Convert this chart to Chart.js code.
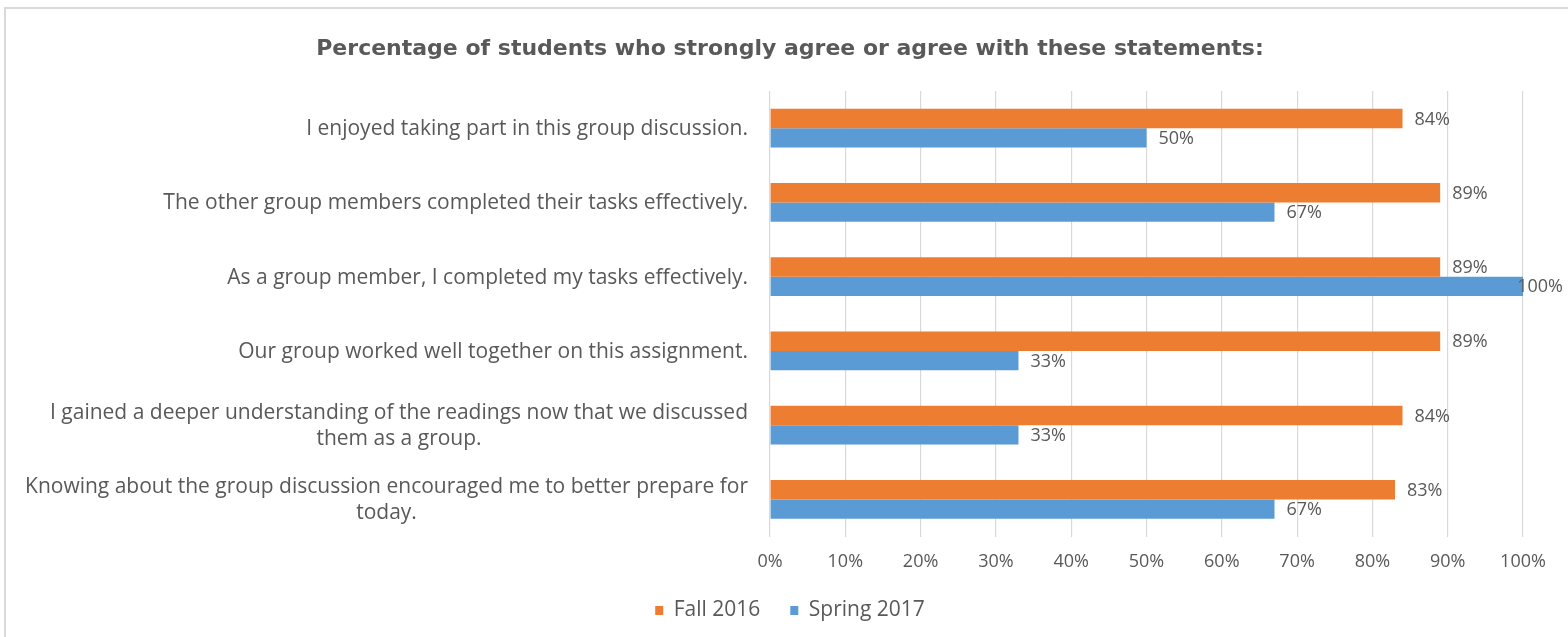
<!DOCTYPE html>
<html>
<head>
<meta charset="utf-8">
<script src="https://cdn.jsdelivr.net/npm/chart.js@4"></script>
<style>
  html, body { margin: 0; padding: 0; background: #ffffff; overflow: hidden; }
  #frame { position: absolute; left: 4px; top: 7px; width: 1600px; height: 700px; border: 2px solid #d9d9d9; }
  #wrap { position: absolute; left: 0; top: 0; width: 1568px; height: 637px; }
</style>
</head>
<body>
<div id="frame"></div>
<div id="wrap"><canvas id="survey" width="1568" height="637"></canvas></div>
<script>
// Survey statements (wrapped lines as they appear beside the bars)
const statements = [
  ['I enjoyed taking part in this group discussion.'],
  ['The other group members completed their tasks effectively.'],
  ['As a group member, I completed my tasks effectively.'],
  ['Our group worked well together on this assignment.'],
  ['I gained a deeper understanding of the readings now that we discussed', 'them as a group.'],
  ['Knowing about the group discussion encouraged me to better prepare for', 'today.']
];
// Share of students agreeing, in percent
const fall2016 = [84, 89, 89, 89, 84, 83];
const spring2017 = [50, 67, 100, 33, 33, 67];
const seriesNames = ['Fall 2016', 'Spring 2017'];
const percentTicks = ['0%', '10%', '20%', '30%', '40%', '50%', '60%', '70%', '80%', '90%', '100%'];
const chartTitle = 'Percentage of students who strongly agree or agree with these statements:';

const TEXT = '#595959';
const GRID = '#d9d9d9';
const ORANGE = '#ed7d31';
const BLUE = '#5b9bd5';
const FONT = '"Open Sans", "Liberation Sans", sans-serif';
const TITLE_FONT = '"DejaVu Sans", "Open Sans", sans-serif';

Chart.defaults.font.family = FONT;
Chart.defaults.color = TEXT;

// Category labels: first line right-aligned against the axis, continuation lines centred under it
const statementLabels = {
  id: 'statementLabels',
  afterDraw(chart) {
    const y = chart.scales.y;
    const ctx = chart.ctx;
    const right = chart.chartArea.left - 22;
    const lineHeight = 26;
    ctx.save();
    ctx.font = '21px ' + FONT;
    ctx.fillStyle = TEXT;
    ctx.textBaseline = 'middle';
    statements.forEach((lines, i) => {
      const cy = y.getPixelForValue(i) + 1;
      const firstWidth = ctx.measureText(lines[0]).width;
      lines.forEach((line, j) => {
        const ly = cy + (j - (lines.length - 1) / 2) * lineHeight;
        if (j === 0) {
          ctx.textAlign = 'right';
          ctx.fillText(line, right, ly);
        } else {
          ctx.textAlign = 'center';
          ctx.fillText(line, right - firstWidth / 2, ly);
        }
      });
    });
    ctx.restore();
  }
};

// Value labels just past the end of each bar, kept inside the canvas
const valueLabels = {
  id: 'valueLabels',
  afterDatasetsDraw(chart) {
    const ctx = chart.ctx;
    ctx.save();
    ctx.font = '18px ' + FONT;
    ctx.fillStyle = TEXT;
    ctx.textAlign = 'left';
    ctx.textBaseline = 'middle';
    chart.data.datasets.forEach((ds, di) => {
      const meta = chart.getDatasetMeta(di);
      meta.data.forEach((bar, i) => {
        const txt = ds.data[i] + '%';
        const w = ctx.measureText(txt).width;
        let x = bar.x + 12;
        if (x + w > chart.width - 5) x = chart.width - 5 - w;
        ctx.fillText(txt, x, bar.y + 1);
      });
    });
    ctx.restore();
  }
};

// The legend keeps wide spacing between its entries but only needs a short strip at the bottom
const compactLegend = {
  id: 'compactLegend',
  beforeLayout(chart) {
    const legend = chart.legend;
    if (legend && !legend.__compact) {
      const fit = legend.fit;
      legend.fit = function () {
        fit.call(this);
        this.height = 67;
      };
      legend.__compact = true;
    }
  }
};

new Chart(document.getElementById('survey'), {
  type: 'bar',
  data: {
    labels: statements,
    datasets: [
      { label: seriesNames[0], data: fall2016, backgroundColor: ORANGE, borderWidth: 0 },
      { label: seriesNames[1], data: spring2017, backgroundColor: BLUE, borderWidth: 0 }
    ]
  },
  options: {
    indexAxis: 'y',
    responsive: false,
    animation: false,
    devicePixelRatio: 1,
    categoryPercentage: 0.52,
    barPercentage: 1.0,
    layout: { padding: { left: 57, right: 45, top: 20, bottom: 0 } },
    scales: {
      x: {
        min: 0,
        max: 100,
        ticks: {
          stepSize: 10,
          padding: 15,
          color: TEXT,
          font: { size: 18 },
          callback: (v, idx) => percentTicks[idx]
        },
        grid: { color: GRID, lineWidth: 1.2, drawTicks: false },
        border: { display: false },
        afterFit(scale) { scale.height = 33.5; }
      },
      y: {
        ticks: { display: false },
        grid: { display: false, drawTicks: false },
        border: { display: false },
        afterFit(scale) { scale.width = 713; }
      }
    },
    plugins: {
      title: {
        display: true,
        text: chartTitle,
        color: TEXT,
        font: { family: TITLE_FONT, size: 22, weight: 'bold' },
        padding: { top: 16, bottom: 28.6 }
      },
      legend: {
        position: 'bottom',
        align: 'center',
        labels: {
          boxWidth: 8,
          boxHeight: 9,
          padding: 30,
          color: TEXT,
          font: { size: 21 }
        }
      },
      tooltip: { enabled: false }
    }
  },
  plugins: [compactLegend, statementLabels, valueLabels]
});
</script>
</body>
</html>
